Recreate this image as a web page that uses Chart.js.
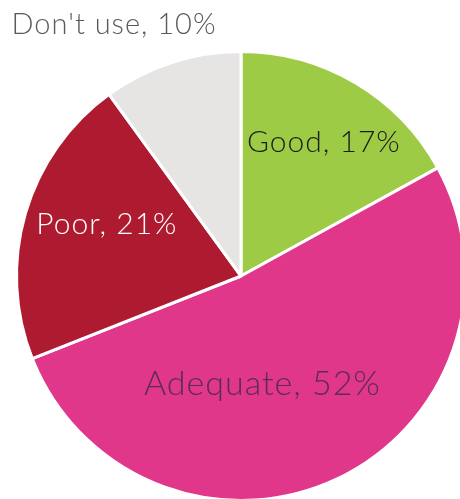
<!DOCTYPE html>
<html>
<head>
<meta charset="utf-8">
<script src="https://cdn.jsdelivr.net/npm/chart.js@4"></script>
<style>
  html, body { margin: 0; padding: 0; background: #ffffff; overflow: hidden; width: 460px; height: 499px; }
  #wrap { position: absolute; left: 0; top: 0; width: 480px; height: 510px; }
</style>
</head>
<body>
<div id="wrap"><canvas id="pie" width="480" height="510"></canvas></div>
<script>
// Survey answers, clockwise from twelve o'clock
const categories = ["Good", "Adequate", "Poor", "Don't use"];
const shares = [17, 52, 21, 10];

const sliceColors = ["#9ecb45", "#e0378a", "#ae1b30", "#e7e4e4"];
const labelColors = ["#1c1c1c", "#5b2d4c", "#ffffff", "#5a5a5a"];
const labelSizes = [30, 34, 30, 29];
// where each label sits: fraction of the radius from the centre, and an angle nudge in degrees
const labelRadius = [0.70, 0.49, 0.64, 1.255];
const labelAngleShift = [1.2, 14, 4.8, -8.8];

const sliceLabels = {
  id: 'sliceLabels',
  afterDatasetsDraw(chart) {
    const ctx = chart.ctx;
    const meta = chart.getDatasetMeta(0);
    ctx.save();
    ctx.textAlign = 'center';
    ctx.textBaseline = 'middle';
    ctx.letterSpacing = '1px';
    meta.data.forEach((arc, i) => {
      const p = arc.getProps(['x', 'y', 'startAngle', 'endAngle', 'outerRadius'], true);
      const mid = (p.startAngle + p.endAngle) / 2 + labelAngleShift[i] * Math.PI / 180;
      const r = p.outerRadius * labelRadius[i];
      const x = p.x + Math.cos(mid) * r;
      const y = p.y + Math.sin(mid) * r;
      ctx.font = '300 ' + labelSizes[i] + 'px Lato, "Open Sans", sans-serif';
      ctx.fillStyle = labelColors[i];
      ctx.fillText(categories[i] + ', ' + shares[i] + '%', x, y);
    });
    ctx.restore();
  }
};

new Chart(document.getElementById('pie'), {
  type: 'pie',
  data: {
    labels: categories,
    datasets: [{
      data: shares,
      backgroundColor: sliceColors,
      borderColor: '#ffffff',
      borderWidth: 3
    }]
  },
  options: {
    responsive: false,
    animation: false,
    layout: { padding: { left: 15, top: 50, right: 13, bottom: 8 } },
    plugins: {
      legend: { display: false },
      tooltip: { enabled: false }
    }
  },
  plugins: [sliceLabels]
});
</script>
</body>
</html>
